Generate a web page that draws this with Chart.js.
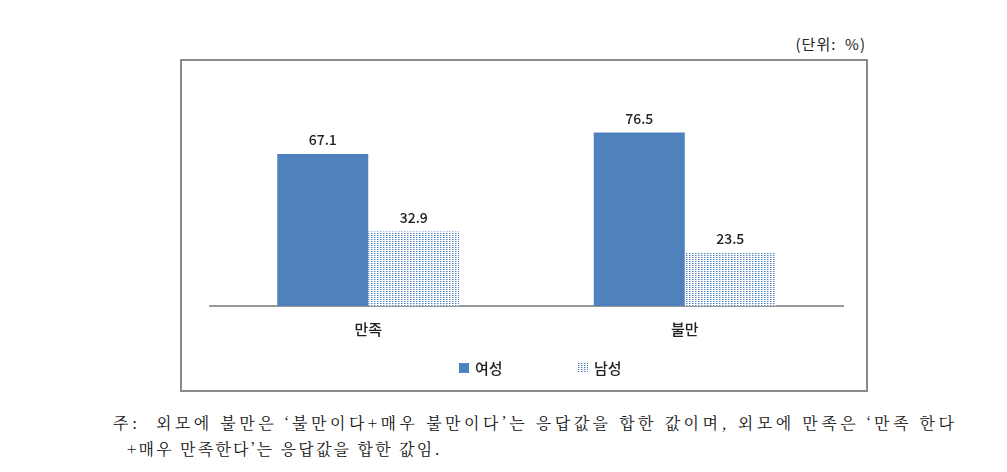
<!DOCTYPE html>
<html>
<head>
<meta charset="utf-8">
<script src="https://cdn.jsdelivr.net/npm/chart.js@4/dist/chart.umd.min.js"></script>
<style>
  body { margin: 0; background: #fff; width: 1007px; height: 472px; position: relative; overflow: hidden;
         font-family: "Noto Sans CJK KR", sans-serif; color: #222; }
  #frame { position: absolute; left: 180px; top: 59px; width: 684px; height: 329px; border: 2px solid #8a8a8a; }
  #wrap { position: absolute; left: 0; top: 0; width: 684px; height: 329px; }
  #unit { position: absolute; right: 141px; top: 34px; font-size: 15px; line-height: 20px; letter-spacing: 1px; }
  .note { position: absolute; font-size: 16px; line-height: 20px; white-space: nowrap; color: #111;
          font-family: "Noto Serif CJK KR", "Noto Sans CJK KR", serif; }
</style>
</head>
<body>
<div id="unit">(단위:&nbsp; %)</div>
<div id="frame"><div id="wrap"><canvas id="barChart"></canvas></div></div>
<div class="note" style="left:113px; top:413px; letter-spacing:3.5px;">주:&nbsp; 외모에 불만은 ‘불만이다+매우 불만이다’는 응답값을 합한 값이며, 외모에 만족은 ‘만족 한다</div>
<div class="note" style="left:127px; top:439px; letter-spacing:2.2px;">+매우 만족한다’는 응답값을 합한 값임.</div>
<script>
  'use strict';

  var categories = ['만족', '불만'];
  var seriesNames = ['여성', '남성'];
  var femaleValues = [67.1, 76.5];
  var maleValues = [32.9, 23.5];

  // dotted fill for the second series
  function dotPattern() {
    var c = document.createElement('canvas');
    c.width = 3; c.height = 2;
    var x = c.getContext('2d');
    x.fillStyle = '#ffffff';
    x.fillRect(0, 0, 3, 2);
    x.fillStyle = '#4f81bd';
    x.fillRect(0, 0, 1, 1);
    x.fillStyle = '#a9c1e4';
    x.fillRect(1, 0, 1, 1);
    return x.createPattern(c, 'repeat');
  }

  var valueLabels = {
    id: 'valueLabels',
    afterDatasetsDraw: function(chart) {
      var ctx = chart.ctx;
      ctx.save();
      ctx.font = '500 14px "Noto Sans CJK KR", sans-serif';
      ctx.fillStyle = '#222';
      ctx.textAlign = 'center';
      ctx.textBaseline = 'bottom';
      chart.data.datasets.forEach(function(ds, i) {
        chart.getDatasetMeta(i).data.forEach(function(bar, j) {
          ctx.fillText(ds.data[j].toFixed(1), bar.x, bar.y - 7);
        });
      });
      ctx.restore();
    }
  };

  var boxLegend = {
    id: 'boxLegend',
    afterDraw: function(chart) {
      var ctx = chart.ctx;
      var xs = [277, 396];
      var y = 307;
      ctx.save();
      ctx.font = '500 15px "Noto Sans CJK KR", sans-serif';
      ctx.textBaseline = 'middle';
      chart.data.datasets.forEach(function(ds, i) {
        ctx.fillStyle = ds.backgroundColor;
        ctx.fillRect(xs[i], y - 5, 10, 10);
        ctx.fillStyle = '#222';
        ctx.fillText(ds.label, xs[i] + 16, y);
      });
      ctx.restore();
    }
  };

  var ctx = document.getElementById('barChart').getContext('2d');
  new Chart(ctx, {
    type: 'bar',
    data: {
      labels: categories,
      datasets: [
        { label: seriesNames[0], data: femaleValues, backgroundColor: '#4f81bd' },
        { label: seriesNames[1], data: maleValues, backgroundColor: dotPattern() }
      ]
    },
    options: {
      responsive: true,
      maintainAspectRatio: false,
      animation: false,
      events: [],
      categoryPercentage: 0.575,
      barPercentage: 1,
      layout: { padding: { left: 28, right: 23, top: 41, bottom: 38 } },
      plugins: { legend: { display: false }, tooltip: { enabled: false } },
      scales: {
        x: {
          grid: { display: true, drawOnChartArea: false, drawTicks: false },
          border: { display: true, color: '#999', width: 2 },
          ticks: { color: '#222', padding: 14, font: { size: 15, weight: '500', family: '"Noto Sans CJK KR", sans-serif' } }
        },
        y: { display: false, min: 0, max: 90 }
      }
    },
    plugins: [valueLabels, boxLegend]
  });
</script>
</body>
</html>
